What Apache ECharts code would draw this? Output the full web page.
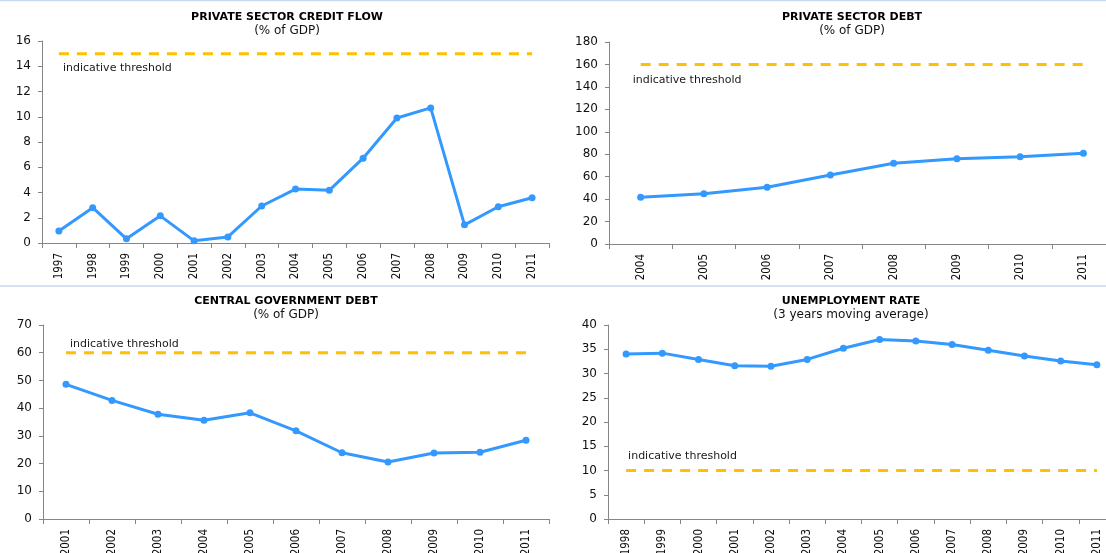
<!DOCTYPE html>
<html>
<head>
<meta charset="utf-8">
<title>Indicators</title>
<script src="https://cdn.jsdelivr.net/npm/echarts@6/dist/echarts.min.js"></script>
<style>
    html, body { margin: 0; padding: 0; background: #fff; }
    #myChart { width: 1106px; height: 553px; }
</style>
</head>
<body>
<div id="myChart"></div>
<script>
    // data
    var creditYears = ['1997', '1998', '1999', '2000', '2001', '2002', '2003', '2004', '2005', '2006', '2007', '2008', '2009', '2010', '2011'];
    var creditFlow = [0.95, 2.8, 0.33, 2.15, 0.17, 0.48, 2.93, 4.27, 4.17, 6.72, 9.9, 10.7, 1.44, 2.87, 3.58];
    var creditThreshold = 15;

    var debtYears = ['2004', '2005', '2006', '2007', '2008', '2009', '2010', '2011'];
    var privateDebt = [41.6, 44.8, 50.5, 61.5, 71.9, 76.0, 77.8, 80.8];
    var debtThreshold = 160;

    var govYears = ['2001', '2002', '2003', '2004', '2005', '2006', '2007', '2008', '2009', '2010', '2011'];
    var govDebt = [48.6, 42.8, 37.8, 35.6, 38.3, 31.8, 23.9, 20.6, 23.8, 24.1, 28.4];
    var govThreshold = 60;

    var unempYears = ['1998', '1999', '2000', '2001', '2002', '2003', '2004', '2005', '2006', '2007', '2008', '2009', '2010', '2011'];
    var unemployment = [34.0, 34.2, 32.9, 31.6, 31.5, 32.9, 35.2, 37.0, 36.7, 36.0, 34.8, 33.6, 32.6, 31.8];
    var unempThreshold = 10;

    var FONT = 'DejaVu Sans';
    var BLUE = '#3399ff';
    var GOLD = '#ffc000';
    var AXIS = '#868686';

    var myChart = echarts.init(document.getElementById('myChart'));

    /* one dashed threshold line, label hangs on the first point */
    function thresholdSeries(idx, years, value, labelOffset) {
        return {
            type: 'line',
            xAxisIndex: idx,
            yAxisIndex: idx,
            data: years.map(function (y, i) {
                if (i === 0) {
                    return {
                        value: value,
                        label: {
                            show: true,
                            formatter: 'indicative threshold',
                            position: 'inside',
                            align: 'left',
                            verticalAlign: 'middle',
                            offset: labelOffset,
                            color: '#1a1a1a',
                            fontFamily: FONT,
                            fontSize: 11
                        }
                    };
                }
                return value;
            }),
            symbol: 'circle',
            symbolSize: 0,
            showSymbol: true,
            lineStyle: {color: GOLD, width: 3, type: [10, 8]},
            itemStyle: {color: GOLD},
            silent: true,
            z: 1
        };
    }

    function valueSeries(idx, values) {
        return {
            type: 'line',
            xAxisIndex: idx,
            yAxisIndex: idx,
            data: values,
            symbol: 'circle',
            symbolSize: 7,
            lineStyle: {color: BLUE, width: 3},
            itemStyle: {color: BLUE},
            z: 3
        };
    }

    function xAxisFor(idx, years) {
        return {
            type: 'category',
            gridIndex: idx,
            data: years,
            boundaryGap: true,
            axisLine: {lineStyle: {color: AXIS, width: 1}},
            axisTick: {show: true, length: 5, lineStyle: {color: AXIS}},
            axisLabel: {
                rotate: 90,
                margin: 10,
                color: '#111',
                fontFamily: 'DejaVu Sans Condensed, DejaVu Sans',
                fontSize: 11.5
            },
            splitLine: {show: false}
        };
    }

    function yAxisFor(idx, max, step) {
        return {
            type: 'value',
            gridIndex: idx,
            min: 0,
            max: max,
            interval: step,
            axisLine: {show: true, lineStyle: {color: AXIS, width: 1}},
            axisTick: {show: true, length: 4, lineStyle: {color: AXIS}},
            axisLabel: {margin: 11, color: '#111', fontFamily: FONT, fontSize: 12},
            splitLine: {show: false}
        };
    }

    function titleFor(x, y, text, sub) {
        return {
            text: text,
            subtext: sub,
            left: x,
            top: y,
            textAlign: 'center',
            itemGap: 2,
            textStyle: {fontFamily: FONT, fontSize: 11, fontWeight: 'bold', color: '#000'},
            subtextStyle: {fontFamily: FONT, fontSize: 12, color: '#111'}
        };
    }

    var option = {
        animation: false,
        backgroundColor: '#fff',
        title: [
            titleFor(282, 7, 'PRIVATE SECTOR CREDIT FLOW', '(% of GDP)'),
            titleFor(847, 7, 'PRIVATE SECTOR DEBT', '(% of GDP)'),
            titleFor(281, 291, 'CENTRAL GOVERNMENT DEBT', '(% of GDP)'),
            titleFor(846, 291, 'UNEMPLOYMENT RATE', '(3 years moving average)')
        ],
        // right-hand charts run past the page edge, as in the source image
        grid: [
            {left: 42, top: 41, width: 507, height: 202, outerBoundsMode: 'none'},
            {left: 609, top: 42, width: 506, height: 202, outerBoundsMode: 'none'},
            {left: 43, top: 325, width: 506, height: 194, outerBoundsMode: 'none'},
            {left: 608, top: 325, width: 507, height: 194, outerBoundsMode: 'none'}
        ],
        xAxis: [
            xAxisFor(0, creditYears),
            xAxisFor(1, debtYears),
            xAxisFor(2, govYears),
            xAxisFor(3, unempYears)
        ],
        yAxis: [
            yAxisFor(0, 16, 2),
            yAxisFor(1, 180, 20),
            yAxisFor(2, 70, 10),
            yAxisFor(3, 40, 5)
        ],
        graphic: [
            {type: 'line', shape: {x1: 0, y1: 0.5, x2: 1106, y2: 0.5}, style: {stroke: '#c6d9f1', lineWidth: 1.5}},
            {type: 'line', shape: {x1: 0, y1: 286, x2: 1106, y2: 286}, style: {stroke: '#c6d9f1', lineWidth: 1.5}}
        ],
        series: [
            thresholdSeries(0, creditYears, creditThreshold, [4, 15]),
            valueSeries(0, creditFlow),
            thresholdSeries(1, debtYears, debtThreshold, [-8, 16]),
            valueSeries(1, privateDebt),
            thresholdSeries(2, govYears, govThreshold, [4, -9]),
            valueSeries(2, govDebt),
            thresholdSeries(3, unempYears, unempThreshold, [2, -14]),
            valueSeries(3, unemployment)
        ]
    };

    myChart.setOption(option);
</script>
</body>
</html>
